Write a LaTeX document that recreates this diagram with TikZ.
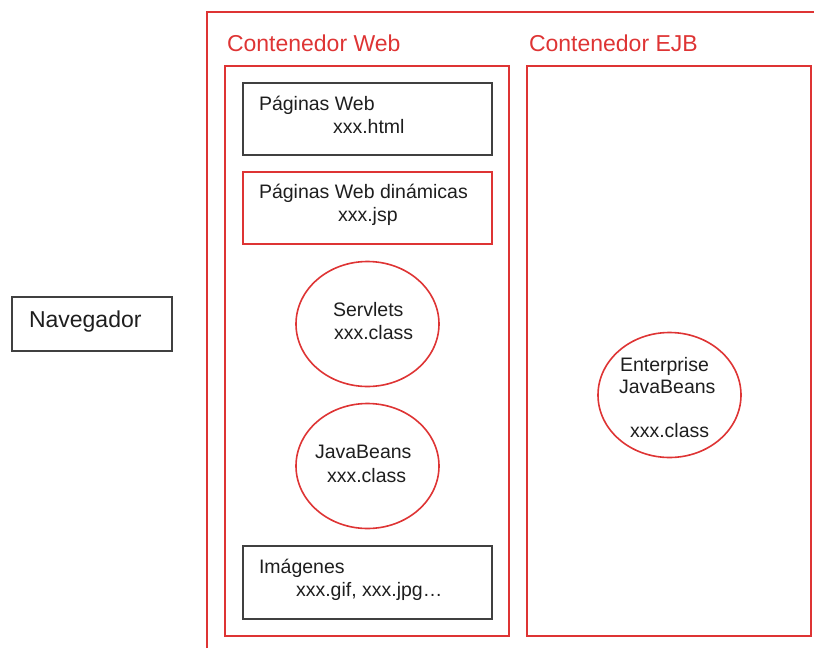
\documentclass[tikz,border=0pt]{standalone}
\usepackage{fontspec}
\setmainfont{Liberation Sans}
\usetikzlibrary{shapes.geometric}
\definecolor{boxred}{RGB}{222,52,52}
\definecolor{boxgray}{RGB}{64,64,64}
\definecolor{txt}{RGB}{30,30,30}
\begin{document}
\begin{tikzpicture}[x=1pt,y=-1pt,
  redbox/.style={draw=boxred, line width=1.6pt, inner sep=0, outer sep=0, anchor=north west},
  graybox/.style={draw=boxgray, line width=1.6pt, inner sep=0, outer sep=0, anchor=north west},
  redell/.style={draw=boxred, line width=1.6pt, ellipse, inner sep=0, outer sep=0, minimum width=143, minimum height=125},
  lbl/.style={anchor=base west, inner sep=0, outer sep=0, text=txt, font=\fontsize{19.5}{22}\selectfont},
  big/.style={anchor=base west, inner sep=0, outer sep=0, font=\fontsize{23}{26}\selectfont}]
\useasboundingbox (0,0) rectangle (814,648);
% outer frame (only left and top edges visible)
\coordinate (oBL) at (207,648);
\coordinate (oTL) at (207,12);
\coordinate (oTR) at (814,12);
\draw[draw=boxred, line width=1.6pt] (oBL) -- (oTL) -- (oTR);
% containers
\node[redbox, minimum width=284, minimum height=570] (web) at (225,66) {};
\node[redbox, minimum width=284, minimum height=570] (ejb) at (527,66) {};
\node[big, text=boxred] (webt) at (227,51) {Contenedor Web};
\node[big, text=boxred] (ejbt) at (529,51) {Contenedor EJB};
% navegador
\node[graybox, minimum width=160, minimum height=54] (nav) at (12,297) {};
\node[big, text=txt] (navt) at (29,327) {Navegador};
% web pages
\node[graybox, minimum width=249, minimum height=72] (html) at (243,83) {};
\node[lbl] (htmlt1) at (259,110) {Páginas Web};
\node[lbl] (htmlt2) at (333,133) {xxx.html};
\node[redbox, minimum width=249, minimum height=72] (jsp) at (243,172) {};
\node[lbl] (jspt1) at (259,198) {Páginas Web dinámicas};
\node[lbl] (jspt2) at (338,221) {xxx.jsp};
% servlets
\node[redell] (serv) at (367.5,324) {};
\node[lbl] (servt1) at (333,316) {Servlets};
\node[lbl] (servt2) at (334,339) {xxx.class};
% javabeans
\node[redell] (jb) at (367.5,466) {};
\node[lbl] (jbt1) at (315,458) {JavaBeans};
\node[lbl] (jbt2) at (327,482) {xxx.class};
% images
\node[graybox, minimum width=249, minimum height=73] (img) at (243,546) {};
\node[lbl] (imgt1) at (259,573) {Imágenes};
\node[lbl] (imgt2) at (296,596) {xxx.gif, xxx.jpg…};
% EJB
\node[redell] (ent) at (669.5,395) {};
\node[lbl] (entt1) at (620,371) {Enterprise};
\node[lbl] (entt2) at (619,393) {JavaBeans};
\node[lbl] (entt3) at (630,437) {xxx.class};
\end{tikzpicture}
\end{document}
